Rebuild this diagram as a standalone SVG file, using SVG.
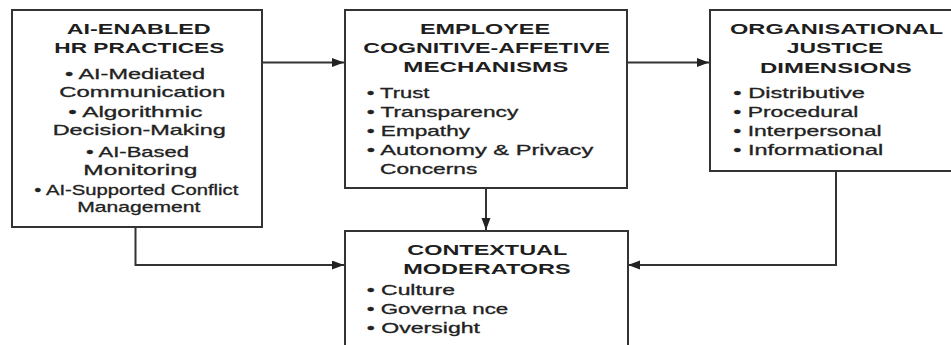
<svg xmlns="http://www.w3.org/2000/svg" width="951" height="345" viewBox="0 0 951 345">
  <defs>
    <marker id="arrow" markerUnits="userSpaceOnUse" markerWidth="13" markerHeight="10" refX="12" refY="4.5" orient="auto">
      <path d="M0,0 L12,4.5 L0,9 Z" fill="#222"/>
    </marker>
    <style>
      .box { fill: #fff; stroke: #333; stroke-width: 2; }
      .wire { fill: none; stroke: #333; stroke-width: 2; }
      .title { font-family: "Liberation Sans", Arial, sans-serif; font-weight: bold; font-size: 15.5px; fill: #1e1e1e; }
      .item { font-family: "Liberation Sans", Arial, sans-serif; font-size: 14.5px; fill: #222; stroke: #222; stroke-width: 0.3; }
    </style>
  </defs>

  <rect width="951" height="345" fill="#fff"/>

  <!-- connectors -->
  <g id="connectors">
    <path class="wire" d="M262,62.5 H344" marker-end="url(#arrow)"/>
    <path class="wire" d="M627,62.5 H709" marker-end="url(#arrow)"/>
    <path class="wire" d="M486,188 V230" marker-end="url(#arrow)"/>
    <path class="wire" d="M135.5,227 V265 H344" marker-end="url(#arrow)"/>
    <path class="wire" d="M836,171 V265 H628" marker-end="url(#arrow)"/>
  </g>

  <!-- AI-enabled HR practices -->
  <g id="hr-practices">
    <rect class="box" x="12" y="10" width="250" height="217"/>
    <text class="title" x="66.7" y="34" textLength="144" lengthAdjust="spacingAndGlyphs">AI-ENABLED</text>
    <text class="title" x="54.3" y="53.3" textLength="170" lengthAdjust="spacingAndGlyphs">HR PRACTICES</text>
    <text class="item" x="65" y="79" textLength="140" lengthAdjust="spacingAndGlyphs">• AI-Mediated</text>
    <text class="item" x="59.3" y="97.3" textLength="166" lengthAdjust="spacingAndGlyphs">Communication</text>
    <text class="item" x="68.3" y="116.5" textLength="134" lengthAdjust="spacingAndGlyphs">• Algorithmic</text>
    <text class="item" x="52.7" y="135" textLength="173" lengthAdjust="spacingAndGlyphs">Decision-Making</text>
    <text class="item" x="86" y="157.3" textLength="103" lengthAdjust="spacingAndGlyphs">• AI-Based</text>
    <text class="item" x="83.3" y="175" textLength="114" lengthAdjust="spacingAndGlyphs">Monitoring</text>
    <text class="item" x="34.3" y="194.5" textLength="204" lengthAdjust="spacingAndGlyphs" font-size="13.5">• AI-Supported Conflict</text>
    <text class="item" x="77.3" y="212" textLength="123" lengthAdjust="spacingAndGlyphs" font-size="13.5">Management</text>
  </g>

  <!-- Employee cognitive-affective mechanisms -->
  <g id="mechanisms">
    <rect class="box" x="345" y="10" width="282" height="178"/>
    <text class="title" x="420" y="34" textLength="130" lengthAdjust="spacingAndGlyphs">EMPLOYEE</text>
    <text class="title" x="363.3" y="53.3" textLength="246.7" lengthAdjust="spacingAndGlyphs">COGNITIVE-AFFETIVE</text>
    <text class="title" x="403.3" y="72.3" textLength="165" lengthAdjust="spacingAndGlyphs">MECHANISMS</text>
    <text class="item" x="366.7" y="97.8" textLength="62.6" lengthAdjust="spacingAndGlyphs">• Trust</text>
    <text class="item" x="366.7" y="116.5" textLength="151.6" lengthAdjust="spacingAndGlyphs">• Transparency</text>
    <text class="item" x="366.7" y="135.5" textLength="103.3" lengthAdjust="spacingAndGlyphs">• Empathy</text>
    <text class="item" x="366.7" y="154.5" textLength="226.6" lengthAdjust="spacingAndGlyphs">• Autonomy &amp; Privacy</text>
    <text class="item" x="380" y="173.5" textLength="97.3" lengthAdjust="spacingAndGlyphs">Concerns</text>
  </g>

  <!-- Organisational justice dimensions -->
  <g id="justice">
    <rect class="box" x="710" y="10" width="243" height="161"/>
    <text class="title" x="730" y="34" textLength="213.3" lengthAdjust="spacingAndGlyphs">ORGANISATIONAL</text>
    <text class="title" x="786.7" y="53.3" textLength="96.6" lengthAdjust="spacingAndGlyphs">JUSTICE</text>
    <text class="title" x="760" y="72.5" textLength="151.7" lengthAdjust="spacingAndGlyphs">DIMENSIONS</text>
    <text class="item" x="733.3" y="97.7" textLength="131.7" lengthAdjust="spacingAndGlyphs">• Distributive</text>
    <text class="item" x="733.3" y="117" textLength="125" lengthAdjust="spacingAndGlyphs">• Procedural</text>
    <text class="item" x="733.3" y="136" textLength="148.4" lengthAdjust="spacingAndGlyphs">• Interpersonal</text>
    <text class="item" x="733.3" y="155" textLength="150" lengthAdjust="spacingAndGlyphs">• Informational</text>
  </g>

  <!-- Contextual moderators -->
  <g id="moderators">
    <rect class="box" x="345" y="231" width="283" height="125"/>
    <text class="title" x="407.3" y="255" textLength="160" lengthAdjust="spacingAndGlyphs">CONTEXTUAL</text>
    <text class="title" x="403.3" y="274.3" textLength="167.4" lengthAdjust="spacingAndGlyphs">MODERATORS</text>
    <text class="item" x="366.7" y="295" textLength="88.3" lengthAdjust="spacingAndGlyphs">• Culture</text>
    <text class="item" x="366.7" y="314" textLength="141.6" lengthAdjust="spacingAndGlyphs">• Governa nce</text>
    <text class="item" x="366.7" y="333.3" textLength="113.3" lengthAdjust="spacingAndGlyphs">• Oversight</text>
  </g>
</svg>
